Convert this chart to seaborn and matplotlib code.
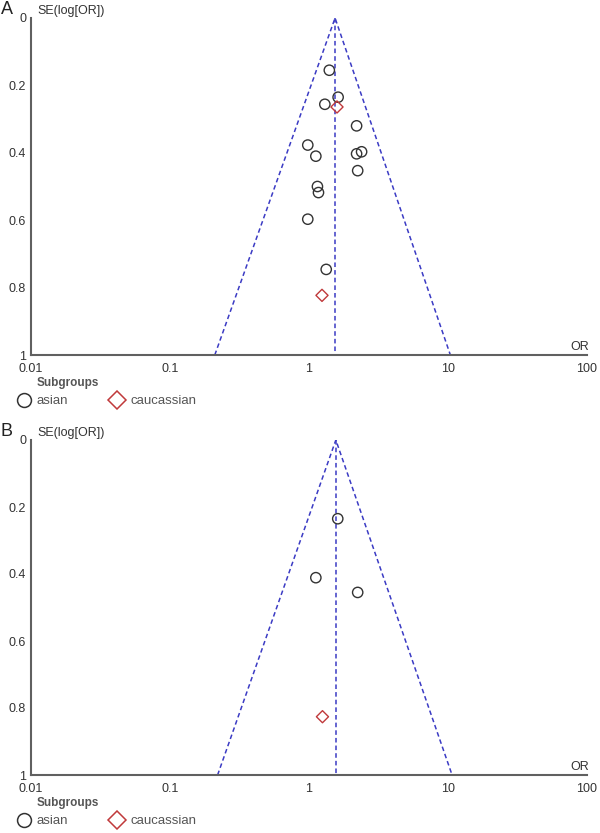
import pandas as pd
import seaborn as sns
import matplotlib.pyplot as plt
from matplotlib.lines import Line2D
from matplotlib.ticker import FixedLocator, NullLocator

# Panel A study values (OR, SE of log OR, subgroup)
a_or = [1.40, 1.62, 1.30, 1.59, 2.20, 0.98, 1.12, 2.20, 2.39, 2.24, 1.15, 1.17, 0.98, 1.33, 1.24]
a_se = [0.155, 0.235, 0.256, 0.264, 0.320, 0.377, 0.410, 0.403, 0.397, 0.453, 0.500, 0.518, 0.597, 0.746, 0.823]
a_group = ['asian', 'asian', 'asian', 'caucassian', 'asian', 'asian', 'asian', 'asian',
           'asian', 'asian', 'asian', 'asian', 'asian', 'asian', 'caucassian']

# Panel B study values
b_or = [1.61, 1.12, 2.24, 1.25]
b_se = [0.235, 0.411, 0.455, 0.826]
b_group = ['asian', 'asian', 'asian', 'caucassian']

# pooled OR and funnel limits
a_pooled = 1.54
b_pooled = 1.56
a_funnel_or = [0.21, 1.54, 10.4]
b_funnel_or = [0.22, 1.56, 10.7]
funnel_se = [1, 0, 1]

x_ticks = [0.01, 0.1, 1, 10, 100]
x_labels = ['0.01', '0.1', '1', '10', '100']
y_ticks = [0, 0.2, 0.4, 0.6, 0.8, 1]
y_labels = ['0', '0.2', '0.4', '0.6', '0.8', '1']

sns.set_theme(style='white')
plt.rcParams['font.family'] = ['Liberation Sans', 'DejaVu Sans']

W, H = 600, 833
grey = '#606060'
txt = '#333333'
line_blue = '#3b3bc4'
colors = {'asian': '#333333', 'caucassian': '#c0393b'}
markers = {'asian': 'o', 'caucassian': 'D'}
sizes = {'asian': 55, 'caucassian': 38}

fig = plt.figure(figsize=(6, 8.33), dpi=100)
ax_a = fig.add_axes([31 / W, 1 - 355 / H, 556 / W, 337 / H])
ax_b = fig.add_axes([31 / W, 1 - 775 / H, 556 / W, 335 / H])


def fx(px):
    return px / W


def fy(py):
    return 1 - py / H


def draw_panel(ax, ors, ses, groups, pooled, funnel_or, letter, top, bottom):
    df = pd.DataFrame({'OR': ors, 'SE': ses, 'group': groups})
    funnel = pd.DataFrame({'OR': funnel_or, 'SE': funnel_se})
    ax.plot(funnel['OR'], funnel['SE'], ls=(0, (3, 2)), color=line_blue, lw=1.1, zorder=1)
    ax.plot([pooled, pooled], [0, 1], ls=(0, (3, 2)), color=line_blue, lw=1.1, zorder=1)
    for g in ['asian', 'caucassian']:
        sub = df[df['group'] == g]
        sns.scatterplot(data=sub, x='OR', y='SE', ax=ax, marker=markers[g], s=sizes[g],
                        facecolor='none', edgecolor=colors[g], linewidth=1.0,
                        legend=False, zorder=3)
    ax.set_xscale('log')
    ax.set_xlim(0.01, 100)
    ax.set_ylim(1, 0)
    ax.xaxis.set_major_locator(FixedLocator(x_ticks))
    ax.xaxis.set_minor_locator(NullLocator())
    ax.set_xticklabels(x_labels)
    ax.set_yticks(y_ticks)
    ax.set_yticklabels(y_labels)
    ax.set_xlabel('')
    ax.set_ylabel('')
    for side in ['top', 'right']:
        ax.spines[side].set_visible(False)
    for side in ['left', 'bottom']:
        ax.spines[side].set_color(grey)
        ax.spines[side].set_linewidth(1.5)
    ax.tick_params(direction='inout', length=7, width=1, color=txt,
                   labelsize=9, labelcolor=txt)
    ax.tick_params(axis='x', pad=2)
    ax.tick_params(axis='y', pad=0)

    fig.text(fx(37), fy(top - 7), 'SE(log[OR])', fontsize=9, color=txt, va='center', ha='left')
    fig.text(fx(589), fy(bottom - 8), 'OR', fontsize=9, color=txt, va='center', ha='right')
    fig.text(fx(1), fy(top - 8), letter, fontsize=13, color='#222222', va='center', ha='left')

    # legend block under the axis
    fig.text(fx(37), fy(bottom + 28), 'Subgroups', fontsize=8.5, fontweight='bold',
             color='#555555', va='center', ha='left')
    handles = [Line2D([], [], ls='none', marker=markers[g], markersize=10 if g == 'asian' else 9,
                      markerfacecolor='none', markeredgecolor=colors[g], markeredgewidth=1.1)
               for g in ['asian', 'caucassian']]
    leg = fig.legend(handles, ['asian', 'caucassian'], loc='center left',
                     bbox_to_anchor=(fx(17), fy(bottom + 46)), ncol=2, frameon=False, fontsize=9.5,
                     handlelength=1.0, handletextpad=0.5, columnspacing=3.2,
                     borderaxespad=0, borderpad=0)
    for t in leg.get_texts():
        t.set_color('#555555')


draw_panel(ax_a, a_or, a_se, a_group, a_pooled, a_funnel_or, 'A', 18, 355)
draw_panel(ax_b, b_or, b_se, b_group, b_pooled, b_funnel_or, 'B', 440, 775)

fig.savefig('out.png', dpi=100)
